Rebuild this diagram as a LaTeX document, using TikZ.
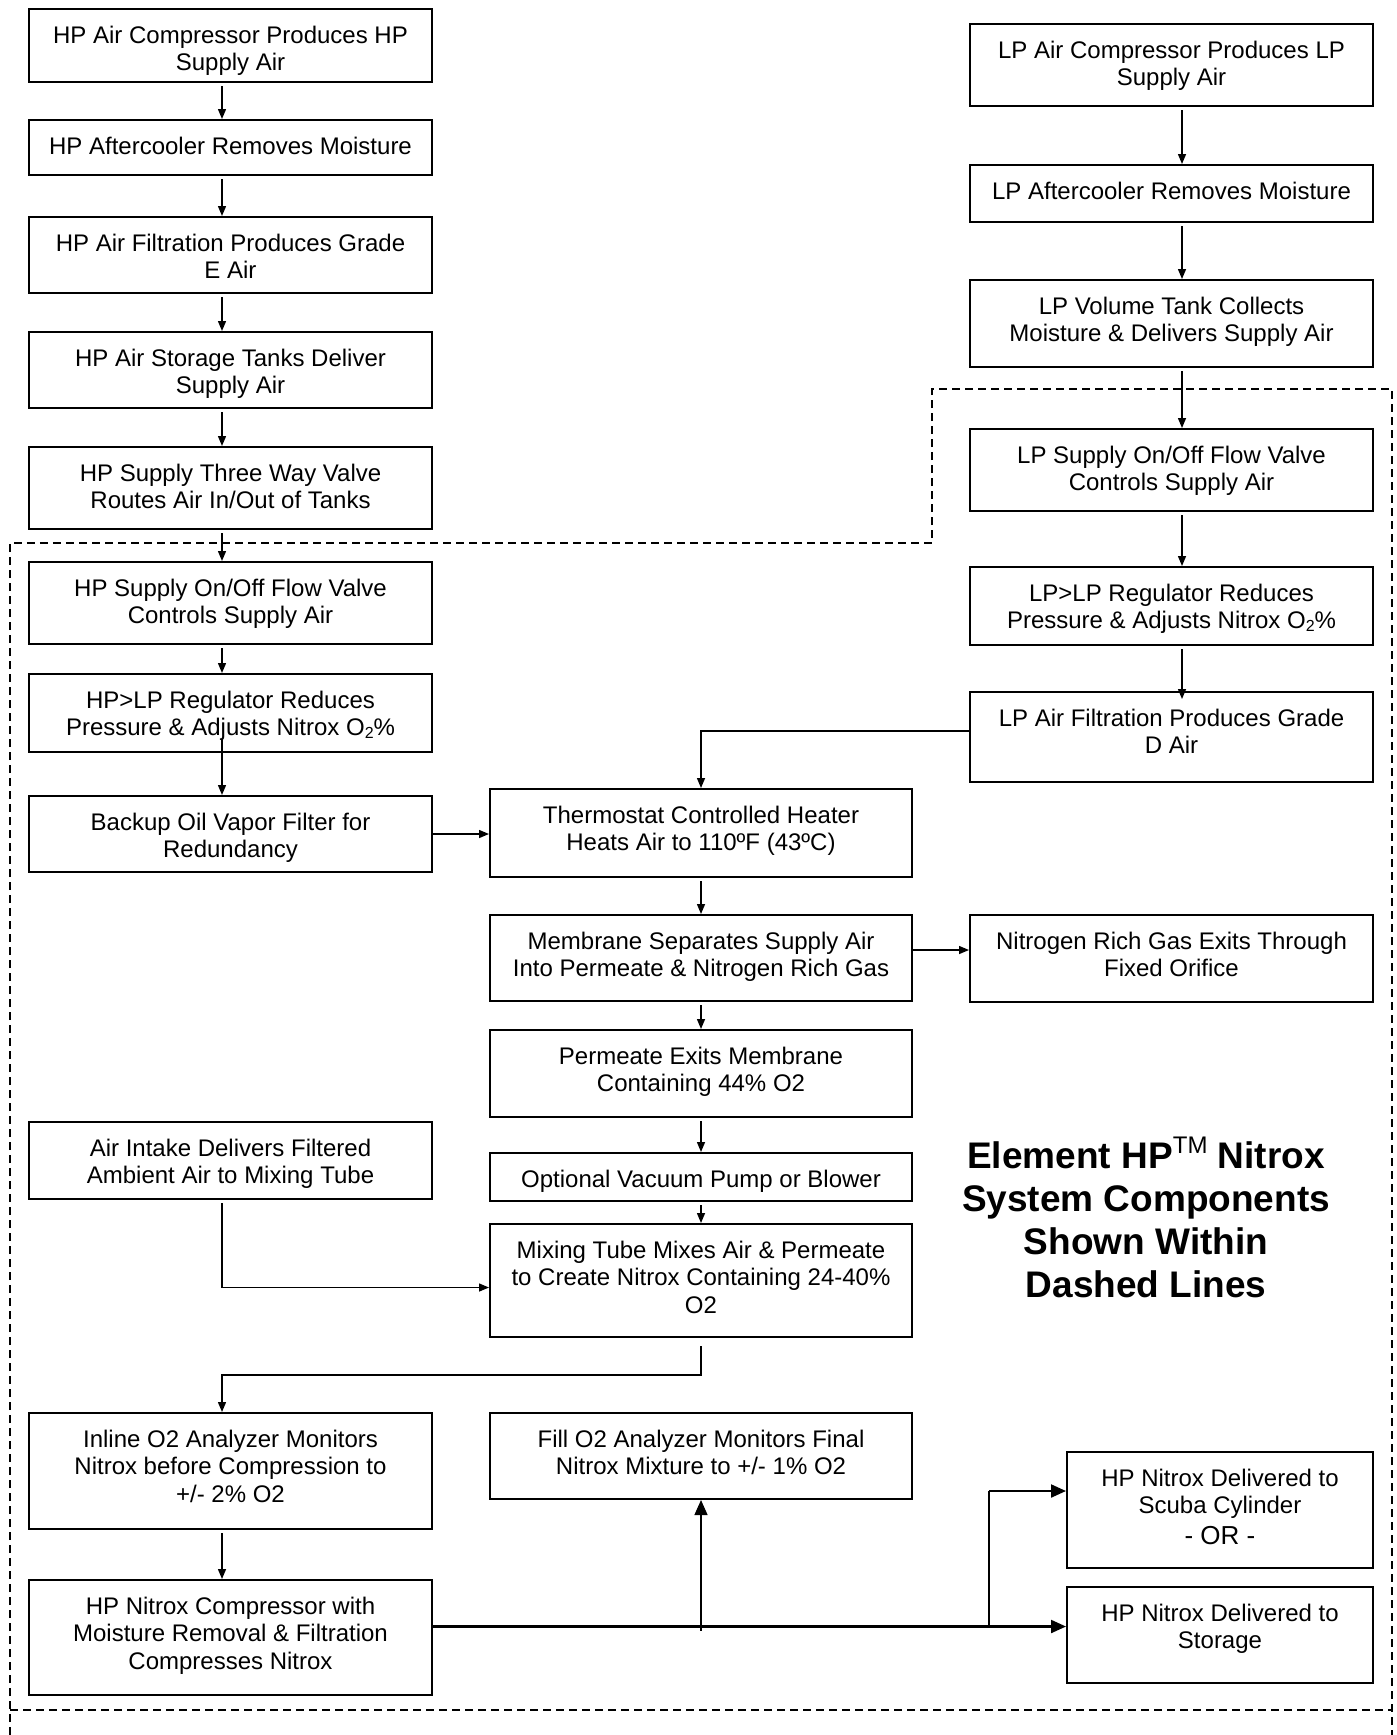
\documentclass[tikz,border=0pt]{standalone}
\usepackage{fontspec}
\setmainfont{Liberation Sans}
\usetikzlibrary{arrows.meta,calc}
\newcommand{\fsz}{\fontsize{24}{27.6}\selectfont}
\newcommand{\subtwo}{\raisebox{-3pt}{\fontsize{16}{16}\selectfont 2}}
\newcommand{\mybox}[6]{%
  \node[boxst, minimum width=#4pt-#2pt, minimum height=#5pt-#3pt] (#1) at ({(#2+#4)/2},{(#3+#5)/2}) {};
  \node[txt, anchor=north] (#1t) at ([yshift=-17.5pt]#1.north) {#6};
}
\begin{document}
\begin{tikzpicture}[x=1pt,y=-1pt,
  boxst/.style={draw, line width=2pt, rectangle, inner sep=0pt},
  txt/.style={font=\fsz, align=center, inner sep=0pt},
  arr/.style={line width=1.4pt, -{Triangle[length=10pt,width=8pt]}, shorten <=3pt},
  plainarr/.style={line width=1.4pt, -{Triangle[length=10pt,width=8pt]}},
  bigarr/.style={-{Triangle[length=15pt,width=13pt]}},
  dsh/.style={line width=1.5pt, dash pattern=on 8pt off 5pt}]
\useasboundingbox (0,0) rectangle (1397,1735);
\fill[white] (0,0) rectangle (1397,1735);

% dashed system outline
\draw[dsh] (10,1735) -- (10,543) -- (932,543) -- (932,389) -- (1392,389) -- (1392,1735);
\draw[dsh] (10,1710) -- (1392,1710);

% left column
\mybox{hpa}{29}{9}{432}{82}{HP Air Compressor Produces HP\\Supply Air}
\mybox{hpb}{29}{120}{432}{175}{HP Aftercooler Removes Moisture}
\mybox{hpc}{29}{217}{432}{293}{HP Air Filtration Produces Grade\\E Air}
\mybox{hpd}{29}{332}{432}{408}{HP Air Storage Tanks Deliver\\Supply Air}
\mybox{hpe}{29}{447}{432}{529}{HP Supply Three Way Valve\\Routes Air In/Out of Tanks}
\mybox{hpf}{29}{562}{432}{644}{HP Supply On/Off Flow Valve\\Controls Supply Air}
\mybox{hpg}{29}{674}{432}{752}{HP>LP Regulator Reduces\\Pressure \& Adjusts Nitrox O\subtwo\%}
\mybox{hph}{29}{796}{432}{872}{Backup Oil Vapor Filter for\\Redundancy}
\mybox{air}{29}{1122}{432}{1199}{Air Intake Delivers Filtered\\Ambient Air to Mixing Tube}
\mybox{inl}{29}{1413}{432}{1529}{Inline O2 Analyzer Monitors\\Nitrox before Compression to\\+/- 2\% O2}
\mybox{cmp}{29}{1580}{432}{1695}{HP Nitrox Compressor with\\Moisture Removal \& Filtration\\Compresses Nitrox}

% middle column
\mybox{thm}{490}{789}{912}{877}{Thermostat Controlled Heater\\Heats Air to 110ºF (43ºC)}
\mybox{mem}{490}{915}{912}{1001}{Membrane Separates Supply Air\\Into Permeate \& Nitrogen Rich Gas}
\mybox{per}{490}{1030}{912}{1117}{Permeate Exits Membrane\\Containing 44\% O2}
\mybox{opt}{490}{1153}{912}{1201}{Optional Vacuum Pump or Blower}
\mybox{mix}{490}{1224}{912}{1337}{Mixing Tube Mixes Air \& Permeate\\to Create Nitrox Containing 24-40\%\\O2}
\mybox{fil}{490}{1413}{912}{1499}{Fill O2 Analyzer Monitors Final\\Nitrox Mixture to +/- 1\% O2}

% right column
\mybox{lpa}{970}{24}{1373}{106}{LP Air Compressor Produces LP\\Supply Air}
\mybox{lpb}{970}{165}{1373}{222}{LP Aftercooler Removes Moisture}
\mybox{lpc}{970}{280}{1373}{367}{LP Volume Tank Collects\\Moisture \& Delivers Supply Air}
\mybox{lpd}{970}{429}{1373}{511}{LP Supply On/Off Flow Valve\\Controls Supply Air}
\mybox{lpe}{970}{567}{1373}{645}{LP>LP Regulator Reduces\\Pressure \& Adjusts Nitrox O\subtwo\%}
\mybox{lpf}{970}{692}{1373}{782}{LP Air Filtration Produces Grade\\D Air}
\mybox{nit}{970}{915}{1373}{1002}{Nitrogen Rich Gas Exits Through\\Fixed Orifice}

% delivery boxes
\mybox{scb}{1067}{1452}{1373}{1568}{HP Nitrox Delivered to\\Scuba Cylinder\\[3pt]{\fontsize{26}{28}\selectfont - OR -}}
\mybox{sto}{1067}{1587}{1373}{1683}{HP Nitrox Delivered to\\Storage}

% title
\node[font=\fontsize{37}{43}\selectfont\bfseries, align=center, inner sep=0pt, anchor=north] (title) at (1146,1137)
  {Element HP\raisebox{15pt}{\fontsize{24}{24}\selectfont\mdseries TM} Nitrox\\System Components\\Shown Within\\Dashed Lines};

% column coordinates
\coordinate (cl) at (222,0);
\coordinate (cr) at (1182,0);

% left column arrows
\draw[arr] (hpa.south -| cl) -- (hpb.north -| cl);
\draw[arr] (hpb.south -| cl) -- (hpc.north -| cl);
\draw[arr] (hpc.south -| cl) -- (hpd.north -| cl);
\draw[arr] (hpd.south -| cl) -- (hpe.north -| cl);
\draw[arr] (hpe.south -| cl) -- (hpf.north -| cl);
\draw[arr] (hpf.south -| cl) -- (hpg.north -| cl);
\draw[plainarr] ($(hpg.south -| cl)+(0,-14)$) -- (hph.north -| cl);
\draw[plainarr] (hph.east) -- (hph.east -| thm.west);

% right column arrows
\draw[arr] (lpa.south -| cr) -- (lpb.north -| cr);
\draw[arr] (lpb.south -| cr) -- (lpc.north -| cr);
\draw[arr] (lpc.south -| cr) -- (lpd.north -| cr);
\draw[arr] (lpd.south -| cr) -- (lpe.north -| cr);
\draw[arr] (lpe.south -| cr) -- ($(lpf.north -| cr)+(0,8)$);
\draw[plainarr] ($(lpf.west)+(0,-6)$) -| (thm.north);

% middle column arrows
\draw[arr] (thm.south) -- (mem.north);
\draw[arr] (mem.south) -- (per.north);
\draw[arr] (per.south) -- (opt.north);
\draw[arr] (opt.south) -- (mix.north);
\coordinate (mn) at ($(mem.east)+(0,-8)$);
\draw[plainarr] (mn) -- (mn -| nit.west);

% air intake into mixing tube
\coordinate (am) at ($(mix.west)+(0,7)$);
\draw[arr] (air.south -| cl) |- (am);

% mixing tube to inline analyzer
\coordinate (jm) at (222,1375);
\draw[arr] ($(mix.south)+(0,5)$) |- (jm) -- (inl.north -| cl);
\draw[arr] (inl.south -| cl) -- (cmp.north -| cl);

% compressor outputs
\coordinate (hl) at ($(cmp.east)+(0,-11)$);
\coordinate (br) at (989,0);
\coordinate (sc) at ($(scb.west)+(0,-19)$);
\draw[line width=2.2pt, bigarr] (hl) -- (hl -| sto.west);
\draw[line width=1.3pt] (hl -| br) -- (sc -| br);
\draw[line width=2.2pt, bigarr] (sc -| br) -- (sc);
\coordinate (fb) at ($(hl -| fil.south)+(0,4)$);
\draw[line width=1.3pt, bigarr] (fb) -- (fil.south);
\end{tikzpicture}
\end{document}
